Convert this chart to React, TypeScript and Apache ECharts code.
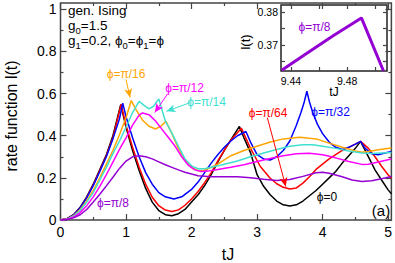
import React, { useEffect, useRef } from 'react';
import * as echarts from 'echarts';

const FONT = '"Liberation Sans", Arial, "DejaVu Sans", sans-serif';

// ---- main panel: rate function l(t) vs tJ ----
const phi0T = [0, 0.1, 0.2, 0.3, 0.4, 0.5, 0.6, 0.7, 0.8, 0.92, 1.0, 1.1, 1.2, 1.3, 1.4, 1.5, 1.6, 1.7, 1.8, 1.9, 2.0, 2.1, 2.2, 2.3, 2.4, 2.5, 2.6, 2.73, 2.8, 2.9, 3.0, 3.1, 3.2, 3.3, 3.4, 3.5, 3.6, 3.7, 3.8, 3.9, 4.0, 4.1, 4.2, 4.3, 4.4, 4.5, 4.58, 4.7, 4.8, 4.9, 5.0, 5.05];
const phi0V = [0, 0.006, 0.025, 0.06, 0.11, 0.17, 0.24, 0.31, 0.4, 0.548, 0.44, 0.33, 0.235, 0.15, 0.085, 0.045, 0.025, 0.02, 0.03, 0.05, 0.085, 0.12, 0.163, 0.215, 0.275, 0.33, 0.38, 0.444, 0.39, 0.32, 0.215, 0.16, 0.12, 0.09, 0.072, 0.067, 0.072, 0.09, 0.115, 0.14, 0.17, 0.2, 0.23, 0.27, 0.305, 0.34, 0.373, 0.3, 0.238, 0.19, 0.143, 0.125];

const phi64T = [0, 0.1, 0.2, 0.3, 0.4, 0.5, 0.6, 0.7, 0.8, 0.925, 1.0, 1.1, 1.2, 1.3, 1.4, 1.5, 1.6, 1.7, 1.8, 1.9, 2.0, 2.1, 2.2, 2.3, 2.4, 2.5, 2.6, 2.76, 2.9, 3.05, 3.2, 3.3, 3.4, 3.5, 3.6, 3.7, 3.8, 3.9, 4.0, 4.1, 4.2, 4.3, 4.4, 4.5, 4.58, 4.7, 4.8, 4.9, 5.0, 5.05];
const phi64V = [0, 0.006, 0.024, 0.058, 0.107, 0.167, 0.235, 0.305, 0.39, 0.548, 0.45, 0.345, 0.25, 0.17, 0.108, 0.068, 0.047, 0.04, 0.048, 0.07, 0.1, 0.135, 0.177, 0.225, 0.28, 0.33, 0.38, 0.436, 0.34, 0.254, 0.198, 0.172, 0.155, 0.147, 0.152, 0.175, 0.205, 0.24, 0.265, 0.29, 0.31, 0.33, 0.345, 0.36, 0.373, 0.34, 0.3, 0.255, 0.215, 0.198];

const phi32T = [0, 0.1, 0.2, 0.3, 0.4, 0.5, 0.6, 0.7, 0.8, 0.9, 0.95, 1.0, 1.1, 1.2, 1.3, 1.4, 1.5, 1.6, 1.73, 1.85, 2.0, 2.1, 2.2, 2.3, 2.4, 2.5, 2.6, 2.7, 2.83, 2.9, 3.0, 3.1, 3.2, 3.3, 3.4, 3.5, 3.6, 3.67, 3.72, 3.76, 3.8, 3.85, 3.92, 4.0, 4.1, 4.2, 4.3, 4.4, 4.5, 4.58, 4.65, 4.75, 4.85, 4.95, 5.05];
const phi32V = [0, 0.006, 0.024, 0.058, 0.105, 0.163, 0.23, 0.3, 0.385, 0.48, 0.555, 0.49, 0.39, 0.3, 0.225, 0.17, 0.13, 0.11, 0.1, 0.11, 0.145, 0.18, 0.225, 0.27, 0.31, 0.345, 0.375, 0.4, 0.42, 0.37, 0.31, 0.29, 0.285, 0.3, 0.33, 0.375, 0.45, 0.51, 0.56, 0.611, 0.56, 0.51, 0.455, 0.41, 0.37, 0.345, 0.335, 0.345, 0.36, 0.373, 0.34, 0.315, 0.31, 0.318, 0.325];

const phi16T = [0, 0.1, 0.2, 0.3, 0.4, 0.5, 0.6, 0.7, 0.8, 0.9, 1.0, 1.08, 1.15, 1.25, 1.35, 1.45, 1.53, 1.61, 1.7, 1.8, 1.9, 2.0, 2.1, 2.2, 2.3, 2.4, 2.5, 2.6, 2.8, 3.0, 3.2, 3.4, 3.65, 3.9, 4.1, 4.3, 4.5, 4.6, 4.7, 4.85, 5.05];
const phi16V = [0, 0.005, 0.02, 0.05, 0.09, 0.14, 0.2, 0.265, 0.33, 0.405, 0.485, 0.567, 0.525, 0.475, 0.445, 0.432, 0.445, 0.468, 0.41, 0.34, 0.285, 0.25, 0.234, 0.236, 0.25, 0.265, 0.285, 0.305, 0.33, 0.35, 0.37, 0.385, 0.393, 0.385, 0.365, 0.345, 0.328, 0.322, 0.325, 0.333, 0.342];

const phi14T = [0, 0.1, 0.2, 0.3, 0.4, 0.5, 0.6, 0.7, 0.8, 0.9, 1.0, 1.1, 1.2, 1.27, 1.35, 1.42, 1.5, 1.6, 1.7, 1.8, 1.9, 2.0, 2.1, 2.2, 2.3, 2.4, 2.5, 2.7, 2.9, 3.1, 3.3, 3.5, 3.7, 3.85, 4.0, 4.2, 4.4, 4.6, 4.75, 4.9, 5.05];
const phi14V = [0, 0.004, 0.018, 0.045, 0.085, 0.13, 0.19, 0.25, 0.315, 0.375, 0.44, 0.51, 0.563, 0.545, 0.527, 0.54, 0.575, 0.47, 0.412, 0.35, 0.29, 0.257, 0.243, 0.243, 0.25, 0.257, 0.265, 0.28, 0.3, 0.318, 0.335, 0.35, 0.357, 0.357, 0.35, 0.34, 0.328, 0.318, 0.316, 0.318, 0.32];

const phi12T = [0, 0.1, 0.2, 0.3, 0.4, 0.5, 0.6, 0.7, 0.8, 0.9, 1.0, 1.1, 1.2, 1.25, 1.35, 1.45, 1.55, 1.65, 1.75, 1.85, 1.95, 2.05, 2.15, 2.25, 2.4, 2.6, 2.8, 3.0, 3.2, 3.4, 3.6, 3.8, 4.0, 4.2, 4.4, 4.6, 4.7, 4.85, 5.05];
const phi12V = [0, 0.003, 0.014, 0.035, 0.068, 0.11, 0.16, 0.215, 0.275, 0.335, 0.39, 0.45, 0.498, 0.508, 0.5, 0.47, 0.43, 0.39, 0.35, 0.3, 0.26, 0.238, 0.23, 0.232, 0.24, 0.25, 0.262, 0.278, 0.292, 0.305, 0.314, 0.317, 0.31, 0.295, 0.278, 0.264, 0.265, 0.275, 0.29];

const phi8T = [0, 0.1, 0.2, 0.3, 0.4, 0.5, 0.6, 0.7, 0.8, 0.9, 1.0, 1.1, 1.2, 1.3, 1.4, 1.5, 1.6, 1.7, 1.8, 1.9, 2.0, 2.1, 2.3, 2.5, 2.7, 2.9, 3.1, 3.3, 3.5, 3.7, 3.9, 4.0, 4.1, 4.3, 4.45, 4.6, 4.75, 4.9, 5.05];
const phi8V = [0, 0.002, 0.01, 0.025, 0.05, 0.085, 0.122, 0.162, 0.203, 0.245, 0.28, 0.3, 0.305, 0.3, 0.29, 0.276, 0.262, 0.25, 0.238, 0.227, 0.218, 0.21, 0.205, 0.205, 0.205, 0.2, 0.193, 0.188, 0.192, 0.207, 0.224, 0.227, 0.222, 0.205, 0.19, 0.183, 0.186, 0.196, 0.206];

// ---- inset: phi = pi/8 near tJ ~ 9.47 ----
const insetT = [9.4334, 9.45, 9.47, 9.4901, 9.5058];
const insetV = [0.3621, 0.367, 0.3728, 0.3783, 0.3619];

// ---- tick values ----
const mainXMajor = [0, 1, 2, 3, 4, 5];
const mainXMinor = [0.5, 1.5, 2.5, 3.5, 4.5];
const mainYMajor = [0, 0.2, 0.4, 0.6, 0.8, 1];
const mainYMinor = [0.1, 0.3, 0.5, 0.7, 0.9];
const insetXLabels = [9.44, 9.48];
const insetXTicks = [9.44, 9.46, 9.48, 9.5];
const insetYLabels = [0.37, 0.38];
const insetYTicks = [0.365, 0.37, 0.375, 0.38];

const zip = (t: number[], v: number[]) => t.map((x, i) => [x, v[i]]);

const FRAME = '#444';
const C = {
  black: '#000000',
  red: '#ff0000',
  blue: '#0000ff',
  orange: '#ffa500',
  turq: '#40e0d0',
  magenta: '#ff00ff',
  violet: '#9400d3',
};

function axis(
  dim: 'x' | 'y',
  gridIndex: number,
  position: string,
  min: number,
  max: number,
  ticks: number[],
  len: number,
  labels?: number[],
  fontSize?: number,
  margin?: number,
  fmt?: (v: number) => string
) {
  return {
    type: 'value',
    gridIndex,
    position,
    min,
    max,
    axisLine: { show: false, onZero: false },
    splitLine: { show: false },
    axisTick: {
      show: true,
      inside: true,
      length: len,
      customValues: ticks,
      lineStyle: { color: FRAME, width: 1.2 },
    },
    axisLabel: labels
      ? {
          show: true,
          customValues: labels,
          fontSize,
          fontFamily: FONT,
          color: '#000',
          margin,
          formatter: fmt,
        }
      : { show: false },
  } as any;
}

const yFmt = (v: number) => String(Math.round(v * 10) / 10);
const xFmt = (v: number) => String(Math.round(v));
const f2 = (v: number) => v.toFixed(2);

const XMAX = 5.05;
const YMAX = 1.03;
const IX = [9.4329, 9.5083];
const IY = [0.3619, 0.3823];

function lineSeries(name: string, t: number[], v: number[], color: string, extra: any = {}) {
  return {
    type: 'line',
    name,
    xAxisIndex: 0,
    yAxisIndex: 0,
    data: zip(t, v),
    showSymbol: false,
    symbol: 'none',
    lineStyle: { color, width: 1.5 },
    silent: true,
    ...extra,
  };
}

function arrow(color: string, from: number[], to: number[]) {
  return {
    silent: true,
    symbol: ['none', 'arrow'],
    symbolSize: [6, 9],
    label: { show: false },
    lineStyle: { color, width: 1, type: 'solid' },
    itemStyle: { color },
    emphasis: { disabled: true },
    data: [[{ coord: from }, { coord: to }]],
  };
}

function txt(text: string, x: number, y: number, color: string, fontSize: number, extra: any = {}) {
  return {
    type: 'text',
    x,
    y,
    silent: true,
    style: {
      text,
      fill: color,
      fontSize,
      fontFamily: FONT,
      align: 'center',
      verticalAlign: 'middle',
    },
    ...extra,
  };
}

const richMain = { fontSize: 13.5, fontFamily: FONT, fill: '#000', lineHeight: 21, verticalAlign: 'middle' };
const richSub = { fontSize: 9.5, fontFamily: FONT, fill: '#000', lineHeight: 10, verticalAlign: 'bottom' };

function richTxt(text: string, x: number, y: number) {
  return {
    type: 'text',
    x,
    y,
    silent: true,
    style: {
      text,
      align: 'left',
      verticalAlign: 'middle',
      rich: { a: richMain, b: richSub },
    },
  };
}

const option: any = {
  animation: false,
  backgroundColor: '#fff',
  grid: [
    { left: 60.5, top: 3, width: 331, height: 217, show: true, borderColor: FRAME, borderWidth: 1.5, backgroundColor: 'transparent' },
    { left: 281, top: 5, width: 106, height: 66, show: true, borderColor: '#222', borderWidth: 1.5, backgroundColor: '#fff' },
  ],
  xAxis: [
    axis('x', 0, 'bottom', 0, XMAX, mainXMajor, 6, mainXMajor, 14, 5, xFmt),
    axis('x', 0, 'bottom', 0, XMAX, mainXMinor, 3),
    axis('x', 0, 'top', 0, XMAX, mainXMajor, 6),
    axis('x', 0, 'top', 0, XMAX, mainXMinor, 3),
    axis('x', 1, 'bottom', IX[0], IX[1], insetXTicks, 4, insetXLabels, 10.5, 4, f2),
    axis('x', 1, 'top', IX[0], IX[1], insetXTicks, 4),
  ],
  yAxis: [
    axis('y', 0, 'left', 0, YMAX, mainYMajor, 6, mainYMajor, 14, 4, yFmt),
    axis('y', 0, 'left', 0, YMAX, mainYMinor, 3),
    axis('y', 0, 'right', 0, YMAX, mainYMajor, 6),
    axis('y', 0, 'right', 0, YMAX, mainYMinor, 3),
    axis('y', 1, 'left', IY[0], IY[1], insetYTicks, 4, insetYLabels, 10.5, 3, f2),
    axis('y', 1, 'right', IY[0], IY[1], insetYTicks, 4),
  ],
  series: [
    lineSeries('ϕ=0', phi0T, phi0V, C.black),
    lineSeries('ϕ=π/64', phi64T, phi64V, C.red, { markLine: arrow(C.red, [3.157, 0.486], [3.438, 0.159]) }),
    lineSeries('ϕ=π/32', phi32T, phi32V, C.blue),
    lineSeries('ϕ=π/16', phi16T, phi16V, C.orange, { markLine: arrow(C.orange, [1.0, 0.667], [1.062, 0.581]) }),
    lineSeries('ϕ=π/14', phi14T, phi14V, C.turq, { markLine: arrow(C.turq, [1.977, 0.557], [1.618, 0.516]) }),
    lineSeries('ϕ=π/12', phi12T, phi12V, C.magenta, { markLine: arrow(C.magenta, [1.638, 0.6], [1.438, 0.51]) }),
    lineSeries('ϕ=π/8', phi8T, phi8V, C.violet),
    {
      type: 'line',
      name: 'inset ϕ=π/8',
      xAxisIndex: 4,
      yAxisIndex: 4,
      data: zip(insetT, insetV),
      symbol: 'none',
      lineStyle: { color: C.violet, width: 3 },
      silent: true,
    },
  ],
  graphic: [
    richTxt('{a|gen. Ising}', 68, 10.5),
    richTxt('{a|g}{b|0}{a|=1.5}', 68, 25.3),
    richTxt('{a|g}{b|1}{a|=0.2, ϕ}{b|0}{a|=ϕ}{b|1}{a|=ϕ}', 68, 40.3),
    txt('ϕ=π/16', 126, 74, C.orange, 12),
    txt('ϕ=π/12', 184.5, 87.5, C.magenta, 12),
    txt('ϕ=π/14', 206.5, 101.5, C.turq, 12),
    txt('ϕ=π/64', 268, 112.5, C.red, 12),
    txt('ϕ=π/32', 330.5, 111.5, C.blue, 12),
    txt('ϕ=0', 327, 196.5, C.black, 12),
    txt('ϕ=π/8', 113, 202.5, C.violet, 12),
    txt('ϕ=π/8', 314.5, 27, C.violet, 12),
    txt('(a)', 381, 210.5, '#000', 15),
    txt('tJ', 228, 254.5, '#000', 16),
    txt('rate function l(t)', 11, 116, '#000', 16, { rotation: Math.PI / 2 }),
    txt('tJ', 334, 91.5, '#000', 12.5),
    txt('l(t)', 245, 42, '#000', 13, { rotation: Math.PI / 2 }),
  ],
};

export default function App() {
  const ref = useRef<HTMLDivElement>(null);
  useEffect(() => {
    if (!ref.current) return;
    const chart = echarts.init(ref.current, null, { renderer: 'svg' });
    chart.setOption(option);
    return () => chart.dispose();
  }, []);
  return (
    <div
      ref={ref}
      style={{ position: 'fixed', left: 0, top: 0, width: 395, height: 263 }}
    />
  );
}
